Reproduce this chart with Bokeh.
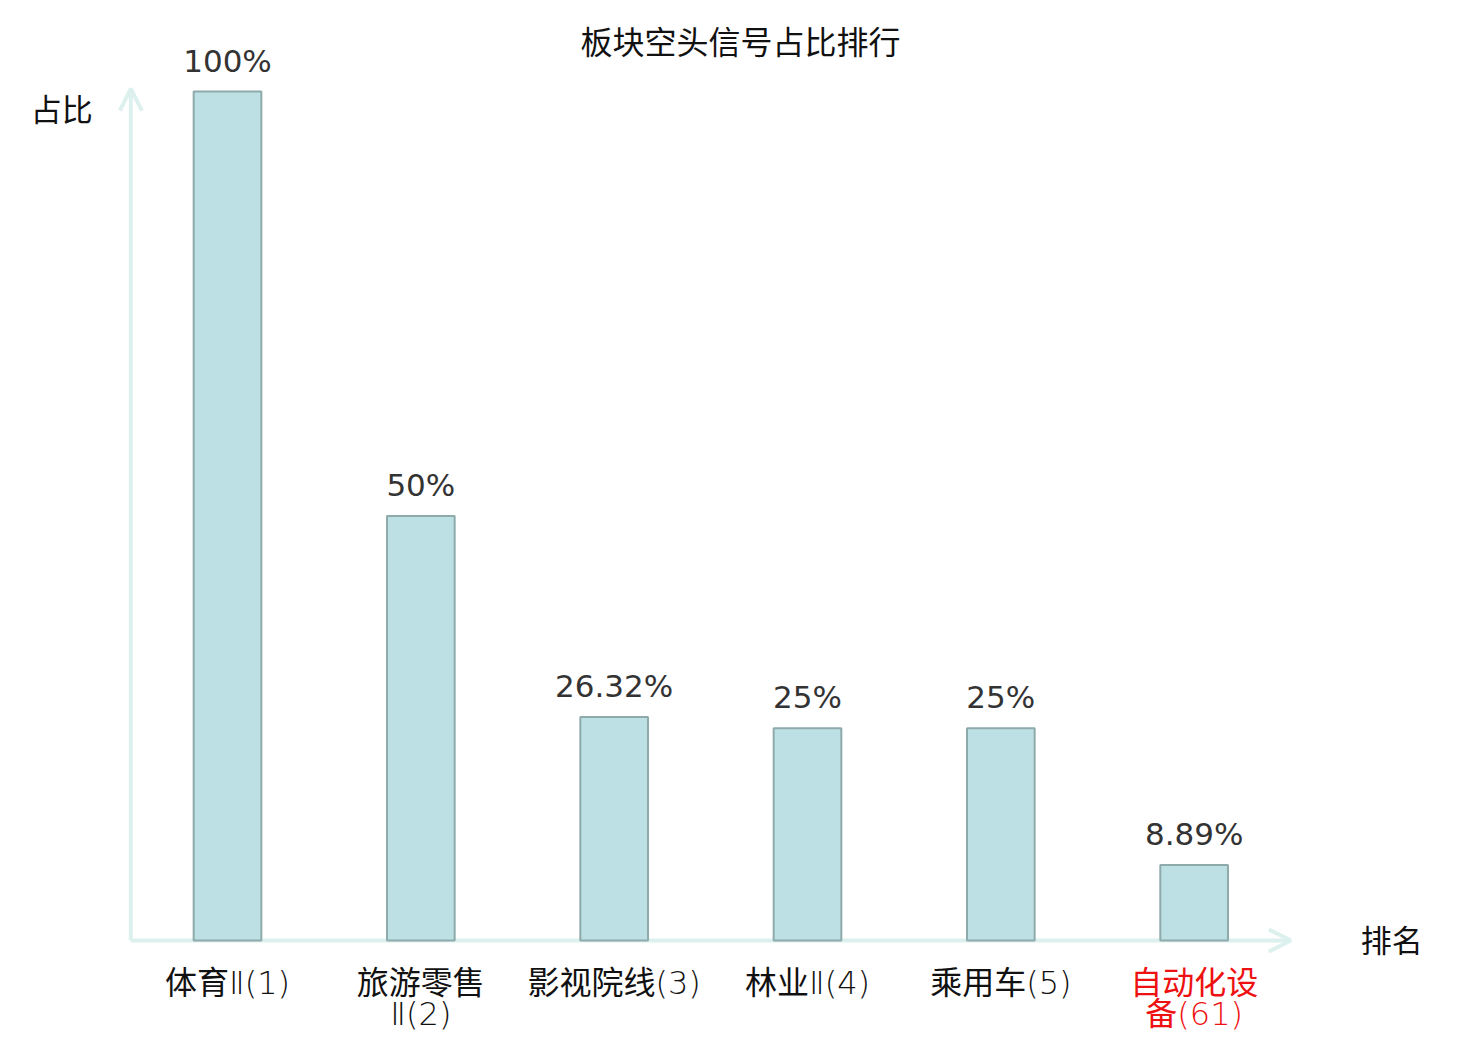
from bokeh.plotting import figure
from bokeh.models import Range1d, ColumnDataSource, Arrow, OpenHead, Label
from bokeh.core.properties import value
from bokeh.embed import file_html
from bokeh.resources import INLINE

# ---- data ----
categories = ["体育Ⅱ(1)", "旅游零售\nⅡ(2)", "影视院线(3)", "林业Ⅱ(4)", "乘用车(5)", "自动化设\n备(61)"]
shares = [100, 50, 26.32, 25, 25, 8.89]
share_labels = ["100%", "50%", "26.32%", "25%", "25%", "8.89%"]
label_colors = ["#111111", "#111111", "#111111", "#111111", "#111111", "#ee1111"]
title_text = "板块空头信号占比排行"
y_name = "占比"
x_name = "排名"

# ---- layout ----
W, H = 1480, 1040
step_px = 193.33          # px per category
first_px = 227.0          # canvas x of first category centre
zero_px = 940.0           # canvas y of baseline (from top)
unit_px = 8.49            # px per percent

xs = list(range(len(categories)))
src = ColumnDataSource(dict(x=xs, top=shares, lab=share_labels, cat=categories, col=label_colors))

p = figure(width=W, height=H, output_backend="svg", toolbar_location=None,
           x_axis_type=None, y_axis_type=None, min_border=0,
           x_range=Range1d(-first_px / step_px, (W - first_px) / step_px),
           y_range=Range1d(-(H - zero_px) / unit_px, zero_px / unit_px))
p.outline_line_color = None
p.grid.visible = False
p.background_fill_color = "white"
p.border_fill_color = "white"

axis_color = "#dcf1ee"
y_arrow = Arrow(x_start=-0.5, y_start=0, x_end=-0.5, y_end=100.35,
                line_color=axis_color, line_width=4,
                end=OpenHead(size=22, line_color=axis_color, line_width=4), level="underlay")
x_arrow = Arrow(x_start=-0.5, y_start=0, x_end=len(categories) - 0.5, y_end=0,
                line_color=axis_color, line_width=4,
                end=OpenHead(size=22, line_color=axis_color, line_width=4), level="underlay")
p.add_layout(y_arrow)
p.add_layout(x_arrow)

p.vbar(x="x", top="top", width=0.35, bottom=0, source=src,
       fill_color="#bce0e3", line_color="#8eaaab", line_width=2)

# value labels
p.text(x="x", y="top", text="lab", source=src, text_align="center", text_baseline="alphabetic",
       y_offset=-31, text_font=value("DejaVu Sans"), text_font_size="31px", text_color="#333333")

# category labels
p.text(x="x", y=0, text="cat", source=src, text_align="center", text_baseline="top",
       y_offset=23, text_font=value("DejaVu Sans Light, Noto Sans CJK SC"), text_font_size="32px",
       text_color="col", text_line_height=0.82)

# axis names
p.add_layout(Label(x=-0.5, y=100, text=y_name, text_align="center", text_baseline="middle",
                   x_offset=-69, y_offset=-16, text_font="Noto Sans CJK SC",
                   text_font_size="31px", text_color="#111111"))
p.add_layout(Label(x=len(categories) - 0.5, y=0, text=x_name, text_align="center",
                   text_baseline="middle", x_offset=101, y_offset=2, text_font="Noto Sans CJK SC",
                   text_font_size="31px", text_color="#111111"))
# title
p.add_layout(Label(x=W / 2, x_units="screen", y=100, text=title_text, text_align="center",
                   text_baseline="middle", y_offset=52, text_font="Noto Sans CJK SC",
                   text_font_size="32px", text_color="#111111"))

open("out.html", "w").write(file_html(p, INLINE))
